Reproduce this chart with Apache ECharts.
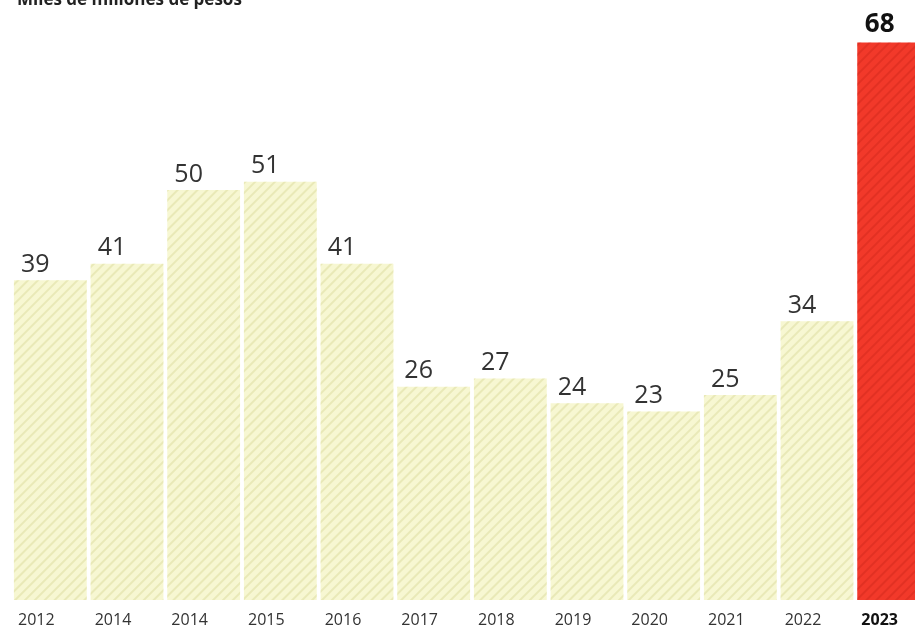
<!DOCTYPE html>
<html><head><meta charset="utf-8">
<script src="https://cdn.jsdelivr.net/npm/echarts@6/dist/echarts.min.js"></script>
<style>html,body{margin:0;padding:0;background:#fff}#c{width:915px;height:641px}</style>
</head><body><div id="c"></div>
<script>
var categories = ['2012','2014','2014','2015','2016','2017','2018','2019','2020','2021','2022','2023'];
var values = [39, 41, 50, 51, 41, 26, 27, 24, 23, 25, 34, 68];
var titleText = 'Miles de millones de pesos';

var chart = echarts.init(document.getElementById('c'));
var last = values.length - 1;
var data = values.map(function (v, i) {
  var hi = i === last;
  return {
    value: v,
    itemStyle: {
      color: hi ? '#f2392a' : '#f7f7d2',
      decal: {
        symbol: 'rect',
        color: hi ? 'rgba(190,30,20,0.3)' : 'rgba(215,215,150,0.45)',
        dashArrayX: [1, 0],
        dashArrayY: [2, 5],
        rotation: -Math.PI / 4
      }
    },
    label: hi ? { fontWeight: 'bold', fontSize: 26, color: '#111', offset: [-14, -2] } : {}
  };
});
chart.setOption({
  backgroundColor: '#fff',
  animation: false,
  aria: { enabled: true, decal: { show: true } },
  title: {
    text: titleText, left: 12, top: -13,
    textStyle: { fontFamily: 'Open Sans', fontSize: 17, fontWeight: 'bold', color: '#222' }
  },
  grid: { left: 12, width: 920, top: 26, bottom: 41, containLabel: false, outerBoundsMode: 'none' },
  xAxis: {
    type: 'category', data: categories,
    axisLine: { show: false }, axisTick: { show: false },
    axisLabel: {
      interval: 0, margin: 12, fontFamily: 'Open Sans', fontSize: 16, color: '#333',
      padding: [0, 28, 0, 0],
      formatter: function (v, i) { return i === last ? '{b|' + v + '}' : v; },
      rich: { b: { fontFamily: 'Open Sans', fontSize: 16, fontWeight: 'bold', color: '#111' } }
    }
  },
  yAxis: { type: 'value', min: 0, max: 70, show: false, splitLine: { show: false } },
  series: [{
    type: 'bar', data: data, barCategoryGap: '5%',
    label: {
      show: true, position: 'top', distance: 3, offset: [-15, 0],
      fontFamily: 'Open Sans', fontSize: 25, color: '#333'
    }
  }]
});
</script></body></html>
